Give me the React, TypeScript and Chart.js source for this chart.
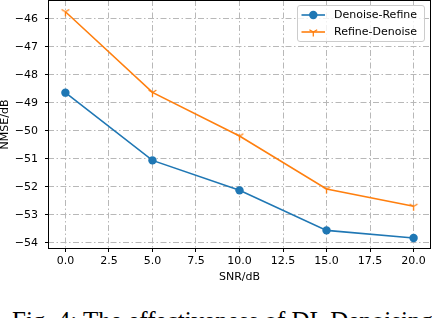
import React, { useEffect, useRef } from "react";
import { Chart, registerables } from "chart.js";

Chart.register(...registerables);

// ---- data ----
const snr = [0, 5, 10, 15, 20];
const denoiseRefine = [-48.64, -51.06, -52.13, -53.56, -53.83];
const refineDenoise = [-45.75, -48.63, -50.19, -52.08, -52.7];
const seriesNames = ["Denoise-Refine", "Refine-Denoise"];
const xTicks = [0, 2.5, 5, 7.5, 10, 12.5, 15, 17.5, 20];
const xTickLabels = ["0.0", "2.5", "5.0", "7.5", "10.0", "12.5", "15.0", "17.5", "20.0"];
const yTicks = [-54, -53, -52, -51, -50, -49, -48, -47, -46];
const yTickLabels = ["\u221254", "\u221253", "\u221252", "\u221251", "\u221250", "\u221249", "\u221248", "\u221247", "\u221246"];
const xTitle = "SNR/dB";
const yTitle = "NMSE/dB";
const caption = "Fig. 4: The effectiveness of DL Denoising algorithm";

const BLUE = "#1f77b4";
const ORANGE = "#ff7f0e";
const FONT = "DejaVu Sans";

function makeTriDown(color: string, r: number): HTMLCanvasElement {
  const size = Math.ceil(r * 2 + 4);
  const c = document.createElement("canvas");
  c.width = size;
  c.height = size;
  const ctx = c.getContext("2d")!;
  const cx = size / 2;
  const cy = size / 2;
  ctx.strokeStyle = color;
  ctx.lineWidth = 1.3;
  ctx.beginPath();
  ctx.moveTo(cx, cy);
  ctx.lineTo(cx, cy + r);
  ctx.moveTo(cx, cy);
  ctx.lineTo(cx + 0.866 * r, cy - 0.5 * r);
  ctx.moveTo(cx, cy);
  ctx.lineTo(cx - 0.866 * r, cy - 0.5 * r);
  ctx.stroke();
  return c;
}

const framePlugin = {
  id: "frame",
  afterDatasetsDraw(chart: any) {
    const { ctx, chartArea } = chart;
    const { left, top, right, bottom } = chartArea;
    ctx.save();
    ctx.strokeStyle = "#000";
    ctx.lineWidth = 1;
    ctx.strokeRect(left + 0.5, top + 0.5, right - left - 1, bottom - top - 1);
    ctx.restore();
  },
};

export default function App() {
  const ref = useRef<HTMLCanvasElement | null>(null);

  useEffect(() => {
    if (!ref.current) return;
    const tri = makeTriDown(ORANGE, 4.5);
    const chart = new Chart(ref.current, {
      type: "line",
      data: {
        datasets: [
          {
            label: seriesNames[0],
            data: snr.map((x, i) => ({ x, y: denoiseRefine[i] })),
            borderColor: BLUE,
            backgroundColor: BLUE,
            borderWidth: 1.6,
            pointStyle: "circle",
            pointRadius: 4.2,
            pointBackgroundColor: BLUE,
            pointBorderColor: BLUE,
            pointBorderWidth: 0,
            tension: 0,
          },
          {
            label: seriesNames[1],
            data: snr.map((x, i) => ({ x, y: refineDenoise[i] })),
            borderColor: ORANGE,
            backgroundColor: ORANGE,
            borderWidth: 1.6,
            pointStyle: tri as any,
            pointRadius: 4.5,
            tension: 0,
          },
        ],
      },
      options: {
        animation: false,
        responsive: false,
        devicePixelRatio: 1,
        layout: { autoPadding: false, padding: { left: 0, right: 1, top: 0, bottom: 0 } },
        plugins: {
          legend: { display: false },
          tooltip: { enabled: false },
        },
        scales: {
          x: {
            type: "linear",
            min: -1,
            max: 21,
            afterBuildTicks: (axis: any) => {
              axis.ticks = xTicks.map((v) => ({ value: v }));
            },
            afterFit: (scale: any) => {
              scale.height = 46;
              scale.paddingLeft = 0;
              scale.paddingRight = 0;
            },
            ticks: {
              callback: (_v: any, i: number) => xTickLabels[i],
              font: { family: FONT, size: 11 },
              color: "#000",
              padding: 3,
              maxRotation: 0,
              autoSkip: false,
            },
            grid: {
              color: "#b8b8b8",
              lineWidth: 1,
              drawTicks: true,
              tickLength: 3,
              tickColor: "#000",
              tickWidth: 1,
              tickBorderDash: [],
            },
            border: { display: false, dash: [6, 2.5, 1.5, 2.5] },
            title: {
              display: true,
              text: xTitle,
              font: { family: FONT, size: 11 },
              color: "#000",
              padding: { top: 0, bottom: 11 },
            },
          },
          y: {
            type: "linear",
            min: -54.225,
            max: -45.33,
            afterBuildTicks: (axis: any) => {
              axis.ticks = yTicks.map((v) => ({ value: v }));
            },
            afterFit: (scale: any) => {
              scale.width = 48;
              scale.paddingTop = 0;
              scale.paddingBottom = 0;
            },
            ticks: {
              callback: (_v: any, i: number) => yTickLabels[i],
              font: { family: FONT, size: 11 },
              color: "#000",
              padding: 7,
              autoSkip: false,
            },
            grid: {
              color: "#b8b8b8",
              lineWidth: 1,
              drawTicks: true,
              tickLength: 3,
              tickColor: "#000",
              tickWidth: 1,
              tickBorderDash: [],
            },
            border: { display: false, dash: [6, 2.5, 1.5, 2.5] },
            title: {
              display: true,
              text: yTitle,
              font: { family: FONT, size: 11, lineHeight: 1 },
              color: "#000",
              padding: { top: 0, bottom: 0 },
            },
          },
        },
      },
      plugins: [framePlugin],
    } as any);
    return () => chart.destroy();
  }, []);

  const rowStyle = (top: number): React.CSSProperties => ({
    position: "absolute",
    left: 0,
    top,
    height: 14,
    width: "100%",
  });

  return (
    <div
      style={{
        position: "absolute",
        left: 0,
        top: 0,
        width: 432,
        height: 318,
        overflow: "hidden",
        background: "#fff",
      }}
    >
      <canvas ref={ref} width={432} height={295} style={{ display: "block", width: 432, height: 295 }} />
      <div
        style={{
          position: "absolute",
          left: 297,
          top: 5,
          width: 128,
          height: 37,
          boxSizing: "border-box",
          border: "1px solid #cccccc",
          borderRadius: 3,
          background: "rgba(255,255,255,0.8)",
          fontFamily: FONT,
          fontSize: 11,
          color: "#000",
        }}
      >
        <div style={rowStyle(2)}>
          <svg width={26} height={14} style={{ position: "absolute", left: 3, top: 0 }}>
            <line x1={0.5} y1={7} x2={24} y2={7} stroke={BLUE} strokeWidth={1.6} />
            <circle cx={12.3} cy={7} r={4.2} fill={BLUE} />
          </svg>
          <span style={{ position: "absolute", left: 36, top: 0, lineHeight: "14px", whiteSpace: "nowrap" }}>
            {seriesNames[0]}
          </span>
        </div>
        <div style={rowStyle(19.3)}>
          <svg width={26} height={14} style={{ position: "absolute", left: 3, top: 0 }}>
            <line x1={0.5} y1={7} x2={24} y2={7} stroke={ORANGE} strokeWidth={1.6} />
            <path d="M12.3 7 L12.3 11.5 M12.3 7 L16.2 4.75 M12.3 7 L8.4 4.75" stroke={ORANGE} strokeWidth={1.3} fill="none" />
          </svg>
          <span style={{ position: "absolute", left: 36, top: 0, lineHeight: "14px", whiteSpace: "nowrap" }}>
            {seriesNames[1]}
          </span>
        </div>
      </div>
      <div
        style={{
          position: "absolute",
          left: 12,
          top: 307,
          fontFamily: "Liberation Serif",
          fontSize: 25,
          whiteSpace: "nowrap",
          color: "#000",
        }}
      >
        {caption}
      </div>
    </div>
  );
}
